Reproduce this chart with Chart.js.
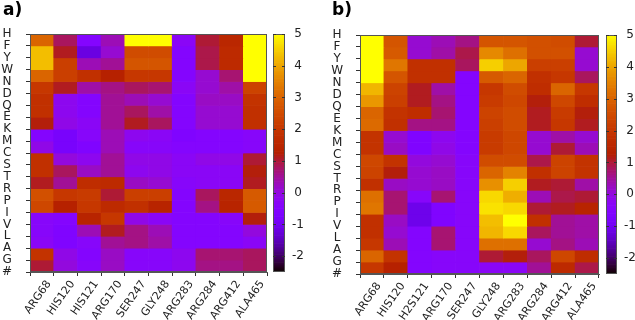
<!DOCTYPE html>
<html lang="en">
<head>
<meta charset="UTF-8">
<title>Residue heatmaps a) and b)</title>
<script src="https://cdn.jsdelivr.net/npm/chart.js"></script>
<style>
  body { margin: 0; background: #fff; }
  #wrap { position: relative; width: 635px; height: 320px; overflow: hidden; }
  canvas { position: absolute; top: 0; }
  .tag { position: absolute; top: 1px; font: bold 17px 'DejaVu Sans', sans-serif; line-height: 17px; color: #000; }
</style>
</head>
<body>
<div id="wrap">
  <canvas id="mapA" width="270" height="320" style="left:0"></canvas>
  <canvas id="barA" width="45" height="320" style="left:265px"></canvas>
  <canvas id="mapB" width="272" height="320" style="left:330px"></canvas>
  <canvas id="barB" width="37" height="320" style="left:598px"></canvas>
  <div class="tag" style="left:3px">a)</div>
  <div class="tag" style="left:332px">b)</div>
</div>

<script>
// tick labels
const yLabels = ['H', 'F', 'Y', 'W', 'N', 'D', 'Q', 'E', 'K', 'M', 'C', 'S', 'T', 'R', 'P', 'I', 'V', 'L', 'A', 'G', '#'];
const residuesA = ['ARG68', 'HIS120', 'HIS121', 'ARG170', 'SER247', 'GLY248', 'ARG283', 'ARG284', 'ARG412', 'ALA465'];
const residuesB = ['ARG68', 'HIS120', 'H2S121', 'ARG170', 'SER247', 'GLY248', 'ARG283', 'ARG284', 'ARG412', 'ALA465'];
const cbTicks = [-2, -1, 0, 1, 2, 3, 4, 5];
const cbMin = -2.5, cbMax = 5;

// values, one row per band from top to bottom, columns follow the residues
const valuesA = [
  [3.0, 0.8, -0.5, 0.3, 5.0, 5.0, -0.3, 1.0, 1.5, 5.0],
  [4.3, 1.1, -1.2, 0.1, 2.5, 2.5, -0.5, 0.9, 1.6, 5.0],
  [4.3, 2.2, 0.3, 0.5, 2.7, 2.7, -0.5, 0.9, 1.6, 5.0],
  [3.0, 2.2, 1.8, 1.3, 2.0, 2.0, -0.5, 0.1, 0.7, 5.0],
  [2.0, 1.1, 0.4, 0.6, 0.8, 0.7, -0.3, 0.1, 0.4, 2.3],
  [1.8, -0.2, -0.5, 0.5, 0.3, 0.1, -0.5, 0.2, 0.2, 1.9],
  [1.8, -0.2, -0.5, 0.5, 0.8, 0.4, -0.5, 0.1, 0.1, 1.8],
  [1.2, -0.1, -0.3, 0.5, 1.1, 0.8, -0.5, 0.1, 0.1, 1.8],
  [-0.5, -0.8, -0.4, 0.3, -0.2, -0.3, -0.6, -0.5, -0.5, -0.4],
  [-0.1, -0.8, -0.6, 0.3, -0.4, -0.4, -0.5, -0.5, -0.5, -0.4],
  [1.8, 0.0, -0.2, 0.5, -0.1, -0.1, -0.3, -0.1, -0.1, 1.0],
  [1.8, 0.8, 0.2, 0.5, -0.2, -0.1, -0.3, -0.3, -0.3, 1.2],
  [1.1, 0.5, 1.7, 1.6, 0.2, 0.1, -0.4, -0.3, -0.3, 1.1],
  [2.6, 2.0, 2.1, 1.0, 2.2, 2.2, -0.5, 0.8, 1.5, 2.8],
  [2.4, 1.3, 2.0, 1.6, 1.8, 1.4, -0.5, 0.6, 1.4, 2.8],
  [-0.4, -0.5, 1.4, 2.0, -0.1, -0.3, -0.5, -0.5, -0.4, 1.2],
  [-0.4, -0.6, 0.3, 1.1, 0.6, 0.3, -0.5, -0.5, -0.5, 0.0],
  [-0.3, -0.6, -0.4, 0.5, 0.6, 0.4, -0.5, -0.5, -0.5, -0.3],
  [1.9, -0.1, -0.5, 0.2, -0.4, -0.4, -0.2, 0.7, 0.7, 0.8],
  [1.0, 0.0, -0.4, 0.2, -0.4, -0.4, -0.2, 0.6, 0.6, 0.8]
];

const valuesB = [
  [5.0, 2.7, 0.1, 0.3, 0.6, 2.7, 2.7, 2.6, 2.5, 1.0],
  [5.0, 2.8, 0.1, 0.4, 0.9, 3.6, 3.2, 2.6, 2.6, 0.1],
  [5.0, 3.3, 1.8, 1.8, 0.8, 4.5, 4.0, 2.2, 2.2, 0.1],
  [5.0, 2.7, 1.8, 1.8, -0.5, 2.8, 3.0, 1.8, 2.0, 0.8],
  [4.2, 2.3, 1.1, 0.4, -0.5, 2.0, 2.5, 1.7, 3.0, 2.0],
  [3.8, 2.2, 1.1, 0.6, -0.5, 2.1, 2.4, 1.2, 2.4, 1.7],
  [3.0, 1.9, 1.7, 0.7, -0.5, 2.3, 2.5, 1.1, 2.1, 1.2],
  [3.1, 1.8, 0.6, 0.6, -0.5, 2.2, 2.5, 1.1, 2.0, 1.1],
  [1.9, 0.1, -0.6, -0.2, -0.5, 2.1, 2.4, 0.1, 0.4, 0.1],
  [1.9, 0.2, -0.6, -0.1, -0.5, 2.1, 2.4, 0.1, 1.0, 0.3],
  [2.4, 1.9, 0.0, 0.1, -0.4, 2.5, 2.5, 0.9, 2.3, 1.9],
  [2.3, 1.2, 0.1, 0.2, -0.4, 3.0, 3.5, 1.8, 2.3, 1.9],
  [1.8, 0.2, 0.1, 0.2, -0.4, 3.7, 4.5, 1.1, 1.0, 0.4],
  [3.2, 0.7, -0.4, 0.7, -0.4, 4.6, 4.1, 0.3, 0.9, 1.0],
  [3.3, 0.7, -1.1, -0.6, -0.4, 4.7, 4.6, 1.0, 1.1, 1.4],
  [1.8, 0.2, -1.1, -0.6, -0.4, 4.3, 5.0, 1.8, 0.5, 0.4],
  [1.8, 0.1, -0.5, 0.7, -0.4, 4.2, 4.6, 0.8, 0.5, 0.4],
  [2.0, 0.3, -0.5, 0.7, -0.4, 3.2, 3.2, 0.1, 0.6, 0.3],
  [3.0, 1.9, -0.5, -0.4, -0.4, 1.0, 1.2, 0.8, 2.4, 1.7],
  [2.0, 1.3, -0.5, -0.4, -0.4, -0.3, -0.3, 0.5, 1.6, 0.9]
];

const nRows = valuesA.length;
const font = 'DejaVu Sans';

// gnuplot default pm3d palette (rgbformulae 7,5,15)
function heatColor(v) {
  const x = Math.min(1, Math.max(0, (v - cbMin) / (cbMax - cbMin)));
  const r = Math.sqrt(x), g = x * x * x, b = Math.max(0, Math.sin(2 * Math.PI * x));
  return 'rgb(' + Math.round(r * 255) + ',' + Math.round(g * 255) + ',' + Math.round(b * 255) + ')';
}

// frame around the plot area, like gnuplot's border
const frame = {
  id: 'frame',
  afterDraw(chart) {
    const { ctx, chartArea: a } = chart;
    ctx.save();
    ctx.strokeStyle = '#555';
    ctx.lineWidth = 1;
    ctx.strokeRect(Math.round(a.left) + 0.5, Math.round(a.top) + 0.5,
      Math.round(a.right - a.left) - 1, Math.round(a.bottom - a.top) - 1);
    ctx.restore();
  }
};

// short inner tics on both sides of the colour box
const innerTics = {
  id: 'innerTics',
  afterDraw(chart) {
    const { ctx, chartArea: a, scales: { y } } = chart;
    ctx.save();
    ctx.strokeStyle = '#333';
    ctx.lineWidth = 1;
    ctx.beginPath();
    cbTicks.forEach(v => {
      const py = Math.round(y.getPixelForValue(v)) + 0.5;
      ctx.moveTo(a.left, py); ctx.lineTo(a.left + 3, py);
      ctx.moveTo(a.right - 3, py); ctx.lineTo(a.right, py);
    });
    ctx.stroke();
    ctx.restore();
  }
};

function makeMap(id, residues, rows, top, axisH) {
  const datasets = rows.map((row, r) => ({
    data: row.map(() => [nRows - r - 1, nRows - r]),
    backgroundColor: row.map(heatColor),
    borderWidth: 0,
    grouped: false,
    barPercentage: 1,
    categoryPercentage: 1
  }));
  new Chart(document.getElementById(id), {
    type: 'bar',
    data: { labels: residues, datasets },
    options: {
      responsive: false,
      animation: false,
      events: [],
      layout: { padding: { top: top, right: 3, left: 0, bottom: 0 } },
      plugins: { legend: { display: false }, tooltip: { enabled: false } },
      scales: {
        x: {
          offset: true,
          grid: { offset: true, drawOnChartArea: false, tickLength: 4, color: '#333' },
          border: { color: '#555' },
          ticks: {
            autoSkip: false, minRotation: 55, maxRotation: 55, labelOffset: 7, padding: 2,
            color: '#222', font: { family: font, size: 11 }
          },
          afterFit(s) { s.height = axisH; }
        },
        y: {
          min: 0, max: nRows,
          grid: { drawOnChartArea: false, tickLength: 4, color: '#333' },
          border: { color: '#555' },
          ticks: {
            stepSize: 1, autoSkip: false, crossAlign: 'center', padding: 13,
            color: '#222', font: { family: font, size: 12 },
            callback: v => yLabels[nRows - v]
          },
          afterFit(s) { s.width = 30; }
        }
      }
    },
    plugins: [frame]
  });
}

function makeColorBox(id, top, bottom, boxW) {
  const step = 0.05;
  const datasets = [];
  for (let i = 0; i < Math.round((cbMax - cbMin) / step); i++) {
    const lo = cbMin + i * step;
    datasets.push({
      data: [[lo, lo + step]],
      backgroundColor: heatColor(lo + step / 2),
      borderWidth: 0,
      grouped: false,
      barPercentage: 1,
      categoryPercentage: 1
    });
  }
  const canvas = document.getElementById(id);
  new Chart(canvas, {
    type: 'bar',
    data: { labels: [''], datasets },
    options: {
      responsive: false,
      animation: false,
      events: [],
      layout: { padding: { top: top, bottom: bottom, left: 8, right: 0 } },
      plugins: { legend: { display: false }, tooltip: { enabled: false } },
      scales: {
        x: { display: false },
        y: {
          position: 'right',
          min: cbMin, max: cbMax,
          grid: { display: false, drawTicks: false },
          border: { display: false },
          afterBuildTicks(s) { s.ticks = cbTicks.map(v => ({ value: v })); },
          ticks: {
            crossAlign: 'center', padding: 7,
            color: '#222', font: { family: font, size: 12 },
            callback: v => String(v)
          },
          afterFit(s) { s.width = canvas.width - 8 - boxW; }
        }
      }
    },
    plugins: [frame, innerTics]
  });
}

makeMap('mapA', residuesA, valuesA, 34, 48);
makeColorBox('barA', 34, 48, 12);
makeMap('mapB', residuesB, valuesB, 35, 46);
makeColorBox('barB', 35, 46, 11);
</script>
</body>
</html>
